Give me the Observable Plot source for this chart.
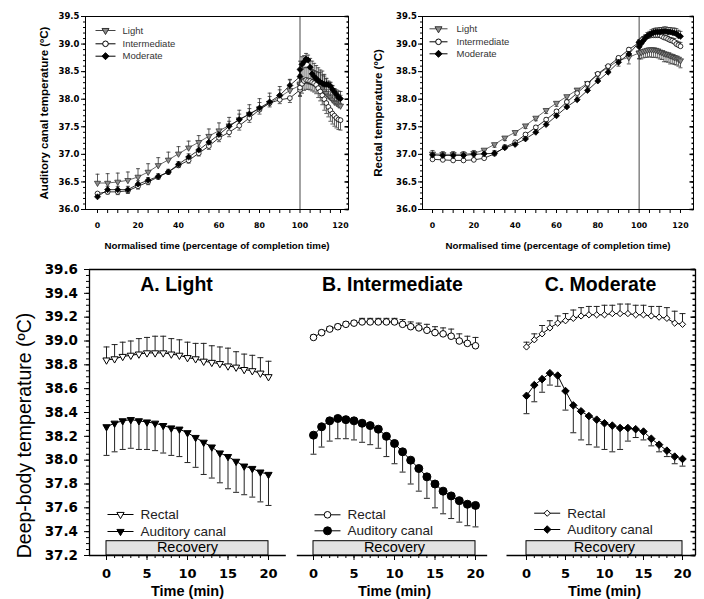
<!DOCTYPE html>
<html><head><meta charset="utf-8">
<script src="https://cdn.jsdelivr.net/npm/d3@7"></script>
<script src="https://cdn.jsdelivr.net/npm/@observablehq/plot@0.6"></script>
<style>
body{margin:0;background:#fff;}
#root{position:relative;width:704px;height:599px;overflow:hidden;background:#fff;}
.panel{position:absolute;}
.panel svg{display:block;overflow:visible;background:transparent;}
</style></head><body><div id="root"></div>
<script>
// ---------- DATA ----------
const exTime = [0,5,10,15,20,25,30,35,40,45,50,55,60,65,70,75,80,85,90,95,100];
const recTime = [0,1,2,3,4,5,6,7,8,9,10,11,12,13,14,15,16,17,18,19,20];
const recoveryPeriod = [{start: 0, end: 20}];

// Top-left: auditory canal during exercise (0-100 % of completion time)
const lightAudEx   = [36.48,36.48,36.50,36.53,36.59,36.68,36.80,36.90,37.01,37.12,37.22,37.33,37.43,37.52,37.63,37.73,37.83,37.93,38.04,38.16,38.25];
const lightAudExSD = [0.16,0.17,0.16,0.15,0.15,0.15,0.14,0.14,0.13,0.12,0.12,0.13,0.14,0.15,0.17,0.17,0.18,0.18,0.19,0.20,0.20];
const intAudEx     = [36.29,36.32,36.32,36.34,36.42,36.50,36.59,36.68,36.80,36.89,37.02,37.15,37.30,37.40,37.52,37.66,37.81,37.93,37.99,38.02,38.17];
const intAudExSD   = [0.04,0.04,0.05,0.05,0.05,0.05,0.04,0.04,0.04,0.05,0.05,0.06,0.07,0.08,0.08,0.08,0.08,0.07,0.07,0.08,0.10];
const modAudEx     = [36.23,36.36,36.36,36.36,36.46,36.53,36.60,36.68,36.82,36.95,37.08,37.22,37.36,37.51,37.63,37.73,37.84,37.95,38.07,38.25,38.41];
const modAudExSD   = [0.05,0.06,0.06,0.06,0.06,0.05,0.05,0.05,0.05,0.06,0.07,0.08,0.09,0.09,0.10,0.10,0.10,0.10,0.10,0.10,0.12];

// Top-right: rectal during exercise
const lightRecEx   = [37.01,37.00,37.00,37.00,37.02,37.08,37.18,37.30,37.40,37.52,37.66,37.80,37.93,38.05,38.17,38.29,38.45,38.58,38.70,38.76,38.84];
const lightRecExSD = [0.05,0.05,0.05,0.05,0.05,0.05,0.05,0.05,0.05,0.05,0.05,0.06,0.06,0.06,0.06,0.06,0.07,0.08,0.10,0.12,0.10];
const intRecEx     = [36.91,36.90,36.89,36.89,36.90,36.93,37.01,37.13,37.22,37.36,37.49,37.63,37.78,37.95,38.11,38.28,38.46,38.60,38.75,38.90,39.03];
const intRecExSD   = [0.03,0.03,0.03,0.03,0.03,0.03,0.03,0.03,0.03,0.03,0.03,0.03,0.03,0.03,0.03,0.03,0.03,0.03,0.03,0.03,0.03];
const modRecEx     = [36.99,36.98,36.98,36.98,37.00,37.01,37.02,37.12,37.18,37.28,37.40,37.54,37.70,37.86,37.99,38.16,38.33,38.49,38.67,38.82,39.03];
const modRecExSD   = [0.08,0.07,0.07,0.07,0.07,0.06,0.05,0.05,0.05,0.05,0.05,0.05,0.05,0.05,0.05,0.05,0.05,0.05,0.05,0.05,0.05];

// Recovery (0-20 min)
const lightRectal   = [38.84,38.85,38.87,38.88,38.89,38.90,38.90,38.90,38.89,38.88,38.86,38.85,38.83,38.82,38.81,38.79,38.78,38.76,38.75,38.73,38.70];
const lightRectalSD = [0.11,0.12,0.12,0.12,0.13,0.13,0.14,0.14,0.13,0.13,0.13,0.13,0.15,0.14,0.14,0.15,0.13,0.13,0.13,0.13,0.13];
const lightAud      = [38.28,38.31,38.33,38.34,38.33,38.32,38.31,38.29,38.27,38.26,38.23,38.19,38.15,38.11,38.06,38.03,37.99,37.95,37.93,37.90,37.88];
const lightAudSD    = [0.24,0.24,0.24,0.24,0.24,0.23,0.23,0.23,0.23,0.23,0.25,0.25,0.27,0.26,0.25,0.27,0.26,0.24,0.24,0.25,0.26];
const intRectal     = [39.03,39.07,39.10,39.12,39.14,39.15,39.16,39.16,39.16,39.16,39.16,39.14,39.12,39.11,39.09,39.07,39.06,39.04,39.00,38.98,38.96];
const intRectalSD   = [0.02,0.02,0.02,0.02,0.02,0.02,0.03,0.03,0.03,0.03,0.03,0.04,0.04,0.04,0.05,0.05,0.05,0.06,0.06,0.06,0.07];
const intAud        = [38.21,38.28,38.33,38.35,38.34,38.33,38.31,38.29,38.26,38.20,38.14,38.07,38.00,37.93,37.86,37.80,37.74,37.70,37.66,37.63,37.62];
const intAudSD      = [0.16,0.17,0.17,0.17,0.16,0.16,0.16,0.16,0.16,0.17,0.17,0.17,0.20,0.19,0.18,0.20,0.19,0.19,0.18,0.18,0.18];
const modRectal     = [38.95,39.01,39.06,39.11,39.15,39.17,39.19,39.21,39.22,39.22,39.22,39.23,39.23,39.23,39.22,39.22,39.21,39.20,39.19,39.15,39.14];
const modRectalSD   = [0.04,0.05,0.07,0.06,0.06,0.06,0.07,0.07,0.07,0.07,0.08,0.07,0.08,0.08,0.08,0.08,0.08,0.09,0.09,0.10,0.09];
const modAud        = [38.54,38.63,38.68,38.73,38.71,38.58,38.46,38.41,38.37,38.34,38.31,38.29,38.27,38.27,38.26,38.24,38.18,38.13,38.08,38.03,38.01];
const modAudSD      = [0.15,0.14,0.11,0.10,0.09,0.16,0.23,0.24,0.24,0.23,0.22,0.22,0.18,0.11,0.07,0.07,0.06,0.06,0.05,0.06,0.06];

// Tick values
const xTicksTop = [0,5,10,15,20,25,30,35,40,45,50,55,60,65,70,75,80,85,90,95,100,105,110,115,120];
const yMajorTop = [36.0,36.5,37.0,37.5,38.0,38.5,39.0,39.5];
const yMinorTop = d3.range(0, 36).map(i => 36 + i * 0.1);
const xMajorBottom = [0,5,10,15,20];
const yMajorBottom = [37.2,37.4,37.6,37.8,38.0,38.2,38.4,38.6,38.8,39.0,39.2,39.4,39.6];
const yMinorBottom = d3.range(0, 49).map(i => 37.2 + i * 0.05);

// ---------- HELPERS ----------
const SANS = "Liberation Sans, Arial, Helvetica, sans-serif";
const DJV = "DejaVu Sans, sans-serif";
const triDown = {draw(ctx, size){const r=Math.sqrt(size/Math.PI)*1.35; ctx.moveTo(0,r); ctx.lineTo(r*0.866,-r/2); ctx.lineTo(-r*0.866,-r/2); ctx.closePath();}};
const diamond = {draw(ctx, size){const r=Math.sqrt(size/Math.PI)*1.3; ctx.moveTo(0,-r); ctx.lineTo(r,0); ctx.lineTo(0,r); ctx.lineTo(-r,0); ctx.closePath();}};
const hline = len => ({draw(ctx){ctx.moveTo(-len/2,0); ctx.lineTo(len/2,0);}});
const seriesRows = (xs, ys, sds, dir) => xs.map((x, i) => ({x, y: ys[i], e: ys[i] + dir * sds[i]}));
const MID = {textAnchor: "middle", lineAnchor: "middle"};

const root = document.getElementById("root");
function place(svg, left, top, width) {
  const d = document.createElement("div");
  d.className = "panel";
  d.style.left = left + "px"; d.style.top = top + "px"; d.style.width = width + "px";
  d.appendChild(svg); root.appendChild(d);
}

function legendMarks(items, fx, fy, o) {
  const m = [];
  items.forEach((it, i) => {
    const dx = o.x - fx, dy = o.ys[i] - fy;
    m.push(Plot.dot([it], {frameAnchor: "top-left", dx, dy, symbol: hline(o.len), r: 1, fill: "none", stroke: it.line || "black", strokeWidth: 1}));
    m.push(Plot.dot([it], {frameAnchor: "top-left", dx, dy, symbol: it.symbol, r: it.r, fill: it.fill, stroke: it.stroke, strokeWidth: 1}));
    m.push(Plot.text([it], {frameAnchor: "top-left", dx: dx + o.gap, dy, text: d => d.label, textAnchor: "start", lineAnchor: "middle", fontFamily: SANS, fontSize: o.fs, fill: o.color}));
  });
  return m;
}

// ---------- TOP PANELS ----------
function topPanel(p) {
  const fx = p.left + p.mL, fy = 16;
  const marks = [Plot.ruleX([100], {stroke: "#666", strokeWidth: 1.2})];
  const built = p.series.map(s => ({...s, rows: [
    ...seriesRows(exTime, s.ex, s.exSD, s.dir),
    ...seriesRows(recTime.map(t => 100 + t), s.rec, s.recSD, s.dir)]}));
  for (const s of built) {
    marks.push(Plot.ruleX(s.rows, {x: "x", y1: "y", y2: "e", stroke: "#333", strokeWidth: 0.8}));
    marks.push(Plot.dot(s.rows, {x: "x", y: "e", symbol: hline(4), r: 1, fill: "none", stroke: "#333", strokeWidth: 0.8}));
  }
  for (const s of built) {
    marks.push(Plot.line(s.rows, {x: "x", y: "y", stroke: s.line, strokeWidth: 0.8}));
    marks.push(Plot.dot(s.rows, {x: "x", y: "y", symbol: s.symbol, r: s.r, fill: s.fill, stroke: s.stroke, strokeWidth: 0.8}));
  }
  marks.push(Plot.frame({stroke: "black", strokeWidth: 1}));
  marks.push(Plot.axisX(xTicksTop, {tickSize: 4, tickPadding: 9, tickFormat: d => d % 20 === 0 ? String(d) : "", fontFamily: DJV, fontWeight: "bold", fontSize: 7.8, label: null}));
  marks.push(Plot.axisY(yMajorTop, {tickSize: 4, tickPadding: p.tickPad, tickFormat: d3.format(".1f"), fontFamily: DJV, fontWeight: "bold", fontSize: 8.5, label: null}));
  marks.push(Plot.axisY(yMinorTop, {tickSize: 2, tickFormat: () => "", label: null}));
  marks.push(Plot.dot(yMajorTop, {y: d => d, frameAnchor: "right", symbol: hline(4), r: 1, dx: -2, fill: "none", stroke: "black"}));
  marks.push(Plot.dot(yMinorTop, {y: d => d, frameAnchor: "right", symbol: hline(2), r: 1, dx: -1, fill: "none", stroke: "black"}));
  marks.push(Plot.text(["Normalised time (percentage of completion time)"], {frameAnchor: "bottom", dy: 36, ...MID, fontFamily: SANS, fontWeight: "bold", fontSize: 9.7}));
  marks.push(Plot.text([p.yLabel], {frameAnchor: "left", dx: p.yLabelX - fx, rotate: -90, ...MID, fontFamily: SANS, fontWeight: "bold", fontSize: 11.5}));
  marks.push(...legendMarks(p.series.map(s => ({label: s.label, symbol: s.symbol, r: s.r + 0.4, fill: s.fill, stroke: s.stroke, line: s.line})), fx, fy,
    {x: p.legX, ys: p.legYs, len: p.legLen, gap: p.legGap, fs: 9.5, color: "#333"}));
  return Plot.plot({
    width: 352, height: 252, marginLeft: p.mL, marginRight: p.mR, marginTop: 16, marginBottom: 43,
    x: {domain: p.xDomain, axis: null}, y: {domain: [36, 39.5], axis: null},
    style: {background: "transparent", overflow: "visible"}, marks
  });
}

const lightStyle = {label: "Light", symbol: triDown, r: 2.6, fill: "#8c8c8c", stroke: "#333", line: "#444"};
const intStyle = {label: "Intermediate", symbol: "circle", r: 2.4, fill: "white", stroke: "black", line: "black"};
const modStyle = {label: "Moderate", symbol: diamond, r: 2.3, fill: "black", stroke: "black", line: "black"};

place(topPanel({
  left: 0, mL: 85, mR: 4, xDomain: [-5.93, 123.95], tickPad: 2,
  yLabel: "Auditory canal temperature (ºC)", yLabelX: 44,
  legX: 105, legYs: [30, 43.3, 55.7], legLen: 20, legGap: 17,
  series: [
    {...lightStyle, ex: lightAudEx, exSD: lightAudExSD, rec: lightAud, recSD: lightAudSD, dir: 1},
    {...intStyle, ex: intAudEx, exSD: intAudExSD, rec: intAud, recSD: intAudSD, dir: -1},
    {...modStyle, ex: modAudEx, exSD: modAudExSD, rec: modAud, recSD: modAudSD, dir: 1}
  ]
}), 0, 0, 352);

place(topPanel({
  left: 352, mL: 70, mR: 11, xDomain: [-4.84, 126.3], tickPad: 1.5,
  yLabel: "Rectal temperature (ºC)", yLabelX: 378,
  legX: 438, legYs: [28.3, 41.3, 53.3], legLen: 18, legGap: 18,
  series: [
    {...lightStyle, ex: lightRecEx, exSD: lightRecExSD, rec: lightRectal, recSD: lightRectalSD, dir: -1},
    {...intStyle, ex: intRecEx, exSD: intRecExSD, rec: intRectal, recSD: intRectalSD, dir: 1},
    {...modStyle, ex: modRecEx, exSD: modRecExSD, rec: modRectal, recSD: modRectalSD, dir: 1}
  ]
}), 352, 0, 352);

// ---------- BOTTOM PANELS ----------
function bottomPanel(p) {
  const fx = p.left + p.mL, fy = 269;
  const xmin = p.xDomain[0], xmax = p.xDomain[1];
  const rect = seriesRows(recTime, p.rectal, p.rectalSD, 1);
  const aud = seriesRows(recTime, p.aud, p.audSD, -1);
  const marks = [];
  marks.push(Plot.rect(recoveryPeriod, {x1: "start", x2: "end", y1: () => 37.2, y2: () => 37.32, fill: "#e2e2e2", stroke: "black", strokeWidth: 1}));
  marks.push(Plot.text(recoveryPeriod, {x: d => (d.start + d.end) / 2, y: () => 37.265, text: () => "Recovery", ...MID, fontFamily: SANS, fontSize: 14.5, fill: "black"}));
  marks.push(Plot.ruleY([39.6], {stroke: "black", strokeWidth: 1.3}));
  marks.push(Plot.ruleY([{y: 37.2, a: p.axisSeg[0], b: p.axisSeg[1]}], {y: "y", x1: "a", x2: "b", stroke: "black", strokeWidth: 1.3}));
  marks.push(Plot.axisX(recTime, {tickSize: 3, tickFormat: () => "", label: null}));
  marks.push(Plot.axisX(xMajorBottom, {tickSize: 5, tickPadding: 8, fontFamily: DJV, fontWeight: "bold", fontSize: 13, label: null}));
  if (p.leftAxis) {
    marks.push(Plot.ruleX([xmin], {stroke: "black", strokeWidth: 1.3}));
    marks.push(Plot.axisY(yMajorBottom, {tickSize: 5, tickPadding: 6.5, tickFormat: d3.format(".1f"), fontFamily: DJV, fontWeight: "bold", fontSize: 13.5, label: null}));
    marks.push(Plot.axisY(yMinorBottom, {tickSize: 3, tickFormat: () => "", label: null}));
    marks.push(Plot.text(["Deep-body temperature (ºC)"], {frameAnchor: "left", dx: 24 - fx, dy: 23, rotate: -90, ...MID, fontFamily: SANS, fontSize: 19.5}));
  }
  if (p.rightAxis) {
    marks.push(Plot.ruleX([xmax], {stroke: "black", strokeWidth: 1.3}));
    marks.push(Plot.dot(yMajorBottom, {y: d => d, frameAnchor: "right", symbol: hline(5), r: 1, dx: -2.5, fill: "none", stroke: "black"}));
    marks.push(Plot.dot(yMinorBottom, {y: d => d, frameAnchor: "right", symbol: hline(3), r: 1, dx: -1.5, fill: "none", stroke: "black"}));
  }
  for (const rows of [rect, aud]) {
    marks.push(Plot.ruleX(rows, {x: "x", y1: "y", y2: "e", stroke: "#222", strokeWidth: 1}));
    marks.push(Plot.dot(rows, {x: "x", y: "e", symbol: hline(6), r: 1, fill: "none", stroke: "#222", strokeWidth: 1}));
  }
  marks.push(Plot.line(rect, {x: "x", y: "y", stroke: "black", strokeWidth: 1}));
  marks.push(Plot.line(aud, {x: "x", y: "y", stroke: "black", strokeWidth: 1}));
  marks.push(Plot.dot(rect, {x: "x", y: "y", symbol: p.symbol, r: p.rRect, fill: "white", stroke: "black", strokeWidth: 1}));
  marks.push(Plot.dot(aud, {x: "x", y: "y", symbol: p.symbol, r: p.rAud, fill: "black", stroke: "black", strokeWidth: 1}));
  marks.push(Plot.text([p.title], {frameAnchor: "top-left", dx: p.titleX - fx, dy: 284 - fy, ...MID, fontFamily: SANS, fontWeight: "bold", fontSize: 19.5}));
  marks.push(Plot.text(["Time (min)"], {x: () => 10, frameAnchor: "bottom", dy: 35.5, ...MID, fontFamily: SANS, fontWeight: "bold", fontSize: 14.5}));
  marks.push(...legendMarks([
    {label: "Rectal", symbol: p.symbol, r: p.rRect, fill: "white", stroke: "black"},
    {label: "Auditory canal", symbol: p.symbol, r: p.rAud, fill: "black", stroke: "black"}
  ], fx, fy, {x: p.legX, ys: p.legYs, len: 26, gap: 20, fs: 13.5, color: "#222"}));
  return Plot.plot({
    width: p.width, height: 344, marginLeft: p.mL, marginRight: p.mR, marginTop: 14, marginBottom: 44,
    x: {domain: p.xDomain, axis: null}, y: {domain: [37.2, 39.6], axis: null},
    style: {background: "transparent", overflow: "visible"}, marks
  });
}

const panelA = {title: "A. Light", left: 0, width: 291, mL: 89, mR: 0, xDomain: [-2.1, 22.84], axisSeg: [-2.1, 22.2],
  leftAxis: true, rightAxis: false, symbol: triDown, rRect: 3.1, rAud: 3.1, titleX: 176, legX: 120, legYs: [514, 531],
  rectal: lightRectal, rectalSD: lightRectalSD, aud: lightAud, audSD: lightAudSD};
const panelB = {title: "B. Intermediate", left: 291, width: 209, mL: 0, mR: 0, xDomain: [-2.716, 23.086], axisSeg: [-2.0, 21.5],
  leftAxis: false, rightAxis: false, symbol: "circle", rRect: 3.3, rAud: 4.0, titleX: 392, legX: 327, legYs: [514.3, 530.3],
  rectal: intRectal, rectalSD: intRectalSD, aud: intAud, audSD: intAudSD};
const panelC = {title: "C. Moderate", left: 500, width: 204, mL: 0, mR: 9, xDomain: [-3.333, 21.667], axisSeg: [-2.5, 21.667],
  leftAxis: false, rightAxis: true, symbol: diamond, rRect: 2.4, rAud: 2.9, titleX: 600, legX: 546.7, legYs: [512.7, 529],
  rectal: modRectal, rectalSD: modRectalSD, aud: modAud, audSD: modAudSD};

for (const p of [panelA, panelB, panelC]) place(bottomPanel(p), p.left, 255, p.width);
</script>
</body></html>
